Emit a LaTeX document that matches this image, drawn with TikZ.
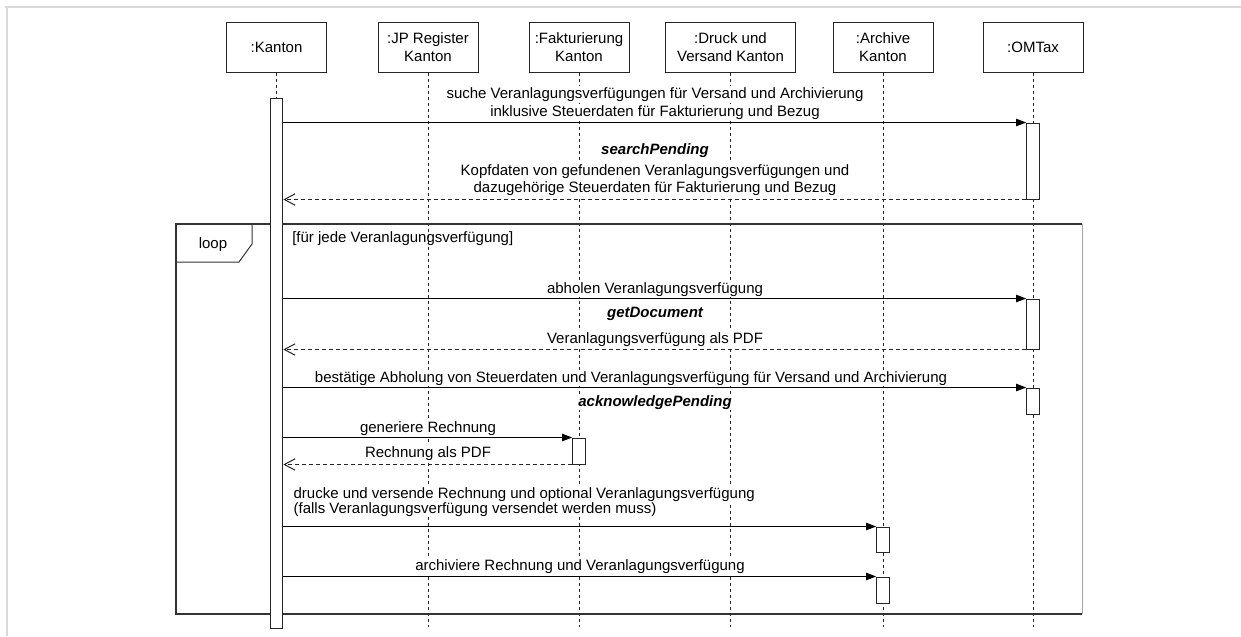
\documentclass[tikz,border=0pt]{standalone}
\usepackage{fontspec}
\setmainfont{Liberation Sans}
\usetikzlibrary{arrows.meta}
\begin{document}
\begin{tikzpicture}[x=0.75pt,y=-0.75pt,
  txt/.style={font=\fontsize{11.25}{13.5}\selectfont, inner sep=0pt},
  head/.style={txt, draw=black!85, line width=0.75pt, fill=white,
    minimum width=75pt, minimum height=37.5pt, align=center},
  life/.style={draw=black!85, line width=0.75pt, dash pattern=on 2.25pt off 2.25pt},
  act/.style={draw=black!85, line width=0.75pt, fill=white, minimum width=9.5pt, inner sep=0pt},
  msg/.style={draw=black, line width=0.75pt, -{Triangle[length=7.5pt,width=5.5pt]}},
  ret/.style={draw=black!85, line width=0.75pt, dash pattern=on 3pt off 2.25pt,
    -{Straight Barb[length=8pt,width=8.5pt]}},
  lbl/.style={txt, anchor=base, fill=white, inner xsep=1pt, inner ysep=1pt},
  lblw/.style={lbl, anchor=base west},
  op/.style={lbl, font=\fontsize{11.25}{13.5}\selectfont\bfseries\itshape},
  frameline/.style={draw=black!80, line width=1pt},
]
\useasboundingbox (0,0) rectangle (1241,636);

% page border
\draw[black!15, line width=1.5pt] (5,7) -- (1241,7);
\draw[black!15, line width=1.5pt] (7,7) -- (7,636);

% participants
\node[head] (kanton) at (276.5,47) {:Kanton};
\node[head] (jp) at (428,47) {:JP Register\\Kanton};
\node[head] (fakt) at (579,47) {:Fakturierung\\Kanton};
\node[head, minimum width=97.5pt] (druck) at (730.5,47) {:Druck und\\Versand Kanton};
\node[head] (archive) at (883,47) {:Archive\\Kanton};
\node[head] (omtax) at (1033,47) {:OMTax};

% lifelines
\foreach \p in {kanton,jp,fakt,druck,archive,omtax}
  \draw[life] (\p.south) -- (\p.south |- 0,627);

% loop fragment
\coordinate (lpNW) at (176,224);
\coordinate (lpSE) at (1082,614);
\draw[frameline] (lpNW -| lpSE) -- (lpNW) -- (lpNW |- lpSE) -- (lpSE);
\draw[black!35, line width=0.75pt] (lpNW -| lpSE) -- (lpSE);
\draw[frameline, line width=0.75pt] (lpNW) -- ++(76,0) -- ++(0,20) -- ++(-13,18) -- ++(-63,0);
\node[txt, anchor=base] (looplbl) at (213,248) {loop};
\node[txt, anchor=base west] (guard) at (292,242) {[für jede Veranlagungsverfügung]};

% message labels
\node[lbl] (m1a) at (655,98) {suche Veranlagungsverfügungen für Versand und Archivierung};
\node[lbl] (m1b) at (655,116) {inklusive Steuerdaten für Fakturierung und Bezug};
\node[op] (m1op) at (655,154) {searchPending};
\node[lbl] (r1a) at (655,175) {Kopfdaten von gefundenen Veranlagungsverfügungen und};
\node[lbl] (r1b) at (655,192) {dazugehörige Steuerdaten für Fakturierung und Bezug};
\node[lbl] (m2a) at (655,293) {abholen Veranlagungsverfügung};
\node[op] (m2op) at (655,317) {getDocument};
\node[lbl] (r2a) at (655,343) {Veranlagungsverfügung als PDF};
\node[lbl] (m3a) at (631,382) {bestätige Abholung von Steuerdaten und Veranlagungsverfügung für Versand und Archivierung};
\node[op] (m3op) at (655,406) {acknowledgePending};
\node[lbl] (m4a) at (428,432) {generiere Rechnung};
\node[lbl] (r4a) at (428,457) {Rechnung als PDF};
\node[lblw] (m5a) at (292,498) {drucke und versende Rechnung und optional Veranlagungsverfügung};
\node[lblw] (m5b) at (292,513) {(falls Veranlagungsverfügung versendet werden muss)};
\node[lbl] (m6a) at (580,570) {archiviere Rechnung und Veranlagungsverfügung};

% activations
\node[act, minimum height=397.5pt] (actK) at (276.5,363) {};
\node[act, minimum height=57pt] (actO1) at (1033,161) {};
\node[act, minimum height=37.5pt] (actO2) at (1033,324) {};
\node[act, minimum height=19.5pt] (actO3) at (1033,401) {};
\node[act, minimum height=19.5pt] (actF) at (579,451) {};
\node[act, minimum height=18.75pt] (actA1) at (883,539.5) {};
\node[act, minimum height=19.5pt] (actA2) at (883,590) {};

% messages
\draw[msg] (actK.east |- actO1.north) -- (actO1.north west);
\draw[ret] (actO1.south west) -- (actK.east |- actO1.south);
\draw[msg] (actK.east |- actO2.north) -- (actO2.north west);
\draw[ret] (actO2.south west) -- (actK.east |- actO2.south);
\draw[msg] (actK.east |- actO3.north) -- (actO3.north west);
\draw[msg] (actK.east |- actF.north) -- (actF.north west);
\draw[ret] (actF.south west) -- (actK.east |- actF.south);
\draw[msg] (actK.east |- actA1.north) -- (actA1.north west);
\draw[msg] (actK.east |- actA2.north) -- (actA2.north west);
\end{tikzpicture}
\end{document}
